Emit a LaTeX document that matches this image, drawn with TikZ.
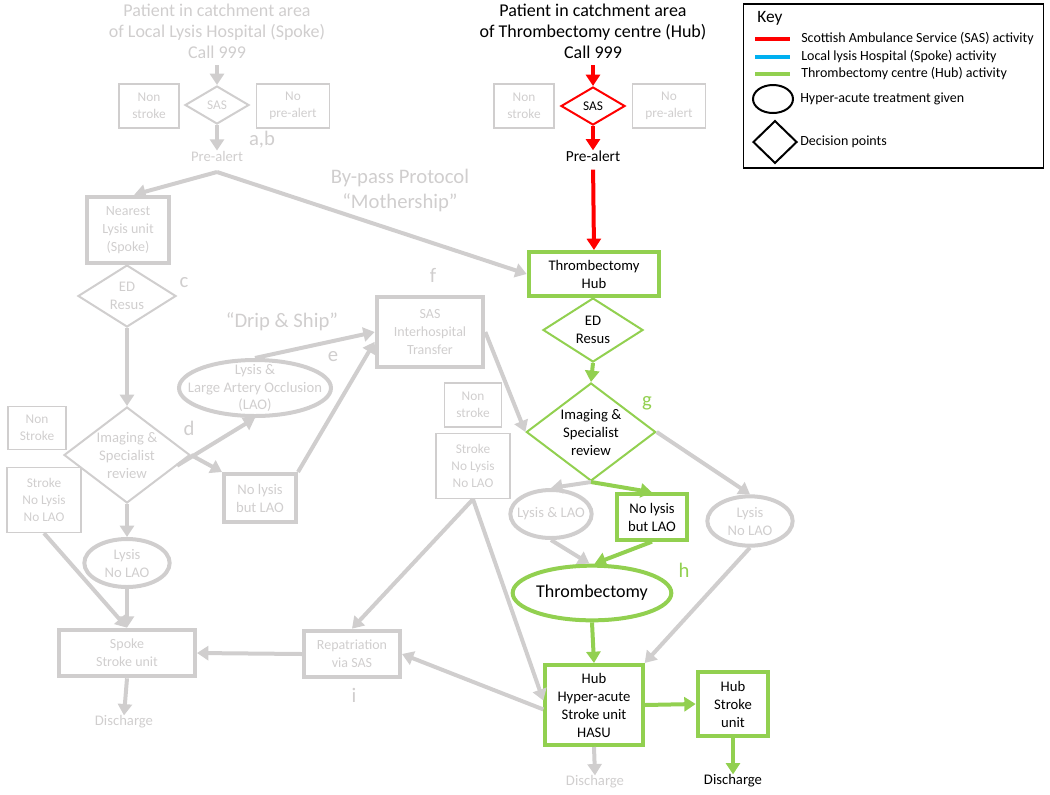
\documentclass[tikz,border=0pt]{standalone}
\usepackage{fontspec}
\setmainfont{Carlito}
\usetikzlibrary{shapes.geometric,arrows.meta}
\definecolor{lgrey}{RGB}{208,206,206}
\definecolor{hgreen}{RGB}{146,208,80}
\definecolor{sred}{RGB}{255,0,0}
\definecolor{sblue}{RGB}{0,176,240}
\begin{document}
\begin{tikzpicture}[x=0.75pt,y=-0.75pt,
        every node/.style={align=center,inner sep=0pt,font=\fontsize{11}{13.5}\selectfont},
        greytxt/.style={text=lgrey},
        heading/.style={font=\fontsize{13.5}{15.75}\selectfont},
        letter/.style={font=\fontsize{15.5}{18}\selectfont,text=lgrey},
        greybox/.style={rectangle,draw=lgrey,text=lgrey,line width=3pt,font=\fontsize{10.5}{13.5}\selectfont},
        thinbox/.style={rectangle,draw=lgrey,text=lgrey,line width=0.8pt,font=\fontsize{10}{12.5}\selectfont},
        hubbox/.style={rectangle,draw=hgreen,line width=3pt},
        greydia/.style={diamond,aspect=1.4,draw=lgrey,text=lgrey,line width=1.5pt},
        greendia/.style={diamond,aspect=1.4,draw=hgreen,line width=1.5pt},
        greyell/.style={ellipse,draw=lgrey,text=lgrey,line width=3pt},
        greenell/.style={ellipse,draw=hgreen,line width=3pt},
        keytext/.style={anchor=west,font=\fontsize{10.5}{12}\selectfont},
        arr/.style={line width=3pt,-{Triangle[length=8.5pt,width=10.5pt]}},
        greyarr/.style={arr,draw=lgrey},
        greenarr/.style={arr,draw=hgreen},
        redarr/.style={arr,draw=sred}]
    \useasboundingbox (0,0) rectangle (1050,794);

    % spoke side
    \node[heading,greytxt] (spoketitle) at (217,31) {Patient in catchment area\\of Local Lysis Hospital (Spoke)\\Call 999};
    \node[greydia,minimum width=48pt,minimum height=28.5pt,font=\fontsize{10}{12}\selectfont] (sassp) at (217,105) {SAS};
    \node[thinbox,minimum width=45pt,minimum height=33pt] (nonsp) at (149,106) {Non\\stroke};
    \node[thinbox,minimum width=55pt,minimum height=33pt] (noprsp) at (293,106) {No\\pre-alert};
    \node[greytxt] (prsp) at (217,156) {Pre-alert};
    \node[letter] (ab) at (262,140) {a,b};
    \coordinate (splitsp) at (217,172);
    \node[greybox,minimum width=62pt,minimum height=50pt] (nearest) at (128,230) {Nearest\\Lysis unit\\(Spoke)};
    \node[greydia,minimum width=73.5pt,minimum height=46.5pt] (edsp) at (127,296) {ED\\Resus};
    \node[letter] (c) at (184,283) {c};
    \node[greydia,minimum width=94.5pt,minimum height=72pt] (imgsp) at (127,455) {Imaging \&\\Specialist\\review};
    \node[letter] (d) at (189,428) {d};
    \node[thinbox,minimum width=43.5pt,minimum height=32pt] (nonstsp) at (37,428) {Non\\Stroke};
    \node[thinbox,minimum width=55.5pt,minimum height=49pt] (nolysp) at (44,500) {Stroke\\No Lysis\\No LAO};
    \node[greyell,minimum width=64pt,minimum height=36pt,inner sep=-3pt] (lysp) at (127,563) {Lysis\\No LAO};
    \node[greybox,minimum width=102pt,minimum height=35pt] (spokeunit) at (127,653) {Spoke\\Stroke unit};
    \node[greytxt] (dissp) at (124,722) {Discharge};
    \node[greybox,minimum width=54pt,minimum height=36pt,font=\fontsize{11}{13.5}\selectfont] (nolaosp) at (260,498) {No lysis\\but LAO};
    \node[greyell,minimum width=114pt,minimum height=42pt,
        label={[greytxt,font=\fontsize{11}{13}\selectfont]center:{Lysis \&\\Large Artery Occlusion\\(LAO)}}] (lylaosp) at (255,388) {};
    \node[letter] (e) at (333,357) {e};
    \node[letter] (dripship) at (282,322) {``Drip \& Ship''};
    \node[greybox,minimum width=80pt,minimum height=53pt] (sastr) at (430,332) {SAS\\Interhospital\\Transfer};
    \node[letter] (f) at (433,275) {f};
    \node[letter,font=\fontsize{15.5}{18.75}\selectfont] (bypass) at (400,190) {By-pass Protocol\\``Mothership''};
    \node[greybox,minimum width=72pt,minimum height=35pt] (repat) at (352,654) {Repatriation\\via SAS};
    \node[letter] (i) at (354,695) {i};

    % hub side
    \node[heading] (hubtitle) at (593,31) {Patient in catchment area\\of Thrombectomy centre (Hub)\\Call 999};
    \node[diamond,aspect=1.4,draw=sred,line width=1.5pt,minimum width=48pt,minimum height=28.5pt,font=\fontsize{10}{12}\selectfont] (sashub) at (593,106) {SAS};
    \node[thinbox,minimum width=45pt,minimum height=33pt] (nonhub) at (524,106) {Non\\stroke};
    \node[thinbox,minimum width=55pt,minimum height=33pt] (noprhub) at (669,106) {No\\pre-alert};
    \node[font=\fontsize{11.5}{13.5}\selectfont] (prhub) at (593,156) {Pre-alert};
    \node[hubbox,minimum width=98pt,minimum height=33pt] (hub) at (594,274) {Thrombectomy\\Hub};
    \node[greendia,minimum width=75pt,minimum height=48pt] (edhub) at (593,330) {ED\\Resus};
    \node[greendia,minimum width=97pt,minimum height=73.5pt] (imghub) at (591,432) {Imaging \&\\Specialist\\review};
    \node[letter,text=hgreen] (g) at (647,403) {g};
    \node[thinbox,minimum width=43pt,minimum height=33pt] (nonsthub) at (473,405) {Non\\stroke};
    \node[thinbox,minimum width=55.5pt,minimum height=49pt] (nolyhub) at (473,466) {Stroke\\No Lysis\\No LAO};
    \node[greyell,minimum width=61pt,minimum height=36pt,inner sep=-8pt] (lylaohub) at (551,514) {Lysis \& LAO};
    \node[hubbox,minimum width=52pt,minimum height=34pt] (nolaohub) at (652,517) {No lysis\\but LAO};
    \node[greyell,minimum width=64pt,minimum height=37pt,inner sep=-3pt] (lyhub) at (750,521) {Lysis\\No LAO};
    \node[greenell,minimum width=119pt,minimum height=41pt,font=\fontsize{13.5}{15}\selectfont] (thromb) at (592,593) {Thrombectomy};
    \node[letter,text=hgreen] (h) at (684,570) {h};
    \node[hubbox,minimum width=73pt,minimum height=60pt] (hasu) at (594,705) {Hub\\Hyper-acute\\Stroke unit\\HASU};
    \node[hubbox,minimum width=53pt,minimum height=48pt] (hubsu) at (733,704) {Hub\\Stroke\\unit};
    \node (dishub) at (733,781) {Discharge};
    \node[greytxt] (dishasu) at (595,782) {Discharge};

    % connectors
    \draw[greyarr,shorten <=5pt] (spoketitle.south) -- (sassp.north);
    \draw[greyarr] (sassp.south) -- (prsp.north);
    \draw[greyarr] (splitsp) -- (nearest.80);
    \draw[greyarr] (splitsp) -- (hub.west);
    \draw[greyarr] (edsp.south) -- (imgsp.north);
    \draw[greyarr] (imgsp.south) -- (lysp.north);
    \draw[greyarr] (lysp.south) -- (spokeunit.north);
    \draw[greyarr] (nolysp.south) -- (spokeunit.north);
    \draw[greyarr] (spokeunit.south) -- (dissp.north);
    \draw[greyarr] (imgsp.east) -- (nolaosp.north west);
    \draw[greyarr] (imgsp.-12) -- (lylaosp.south);
    \draw[greyarr] (lylaosp.north) -- (sastr.west);
    \draw[greyarr] (nolaosp.north east) -- (sastr.190);
    \draw[greyarr] (sastr.east) -- (imghub.west);
    \draw[greyarr] (imghub.south) -- (lylaohub.north);
    \draw[greyarr] (imghub.east) -- (lyhub.north);
    \draw[greyarr] (lylaohub.south) -- (thromb.95);
    \draw[greyarr] (lyhub.south) -- (hasu.north east);
    \draw[greyarr] (nolyhub.south) -- (repat.north);
    \draw[greyarr] (nolyhub.south) -- (hasu.175);
    \draw[greyarr] (hasu.185) -- (repat.east);
    \draw[greyarr] (repat.west) -- (spokeunit.east);
    \draw[greyarr] (hasu.south) -- (dishasu.north);
    \draw[redarr,shorten <=5pt] (hubtitle.south) -- (sashub.north);
    \draw[redarr] (sashub.south) -- (prhub.north);
    \draw[redarr,shorten <=6pt] (prhub.south) -- (hub.north);
    \draw[greenarr] (edhub.south) -- (imghub.north);
    \draw[greenarr] (imghub.south) -- (nolaohub.north);
    \draw[greenarr] (nolaohub.south) -- (thromb.85);
    \draw[greenarr] (thromb.south) -- (hasu.north);
    \draw[greenarr] (hasu.east) -- (hubsu.west);
    \draw[greenarr] (hubsu.south) -- (dishub.north);

    % key
    \node[draw,line width=1pt,minimum width=225pt,minimum height=123pt] (key) at (893.5,86) {};
    \node[font=\fontsize{13}{14}\selectfont] (keytitle) at (770,18) {Key};
    \foreach \n/\c/\y/\t in {1/sred/39/Scottish Ambulance Service (SAS) activity,
            2/sblue/57/Local lysis Hospital (Spoke) activity,
            3/hgreen/74/Thrombectomy centre (Hub) activity} {
        \draw[\c,line width=3pt] (755,\y) -- (790,\y);
        \node[keytext] (key-\n) at (801,\y) {\t};
    }
    \node[ellipse,draw,line width=1.5pt,minimum width=30pt,minimum height=21pt] (keyell) at (773,99) {};
    \node[keytext] (key-4) at (800,99) {Hyper-acute treatment given};
    \node[diamond,draw,line width=1.5pt,minimum width=33pt,minimum height=32pt] (keydia) at (775,142) {};
    \node[keytext] (key-5) at (800,142) {Decision points};
\end{tikzpicture}
\end{document}
